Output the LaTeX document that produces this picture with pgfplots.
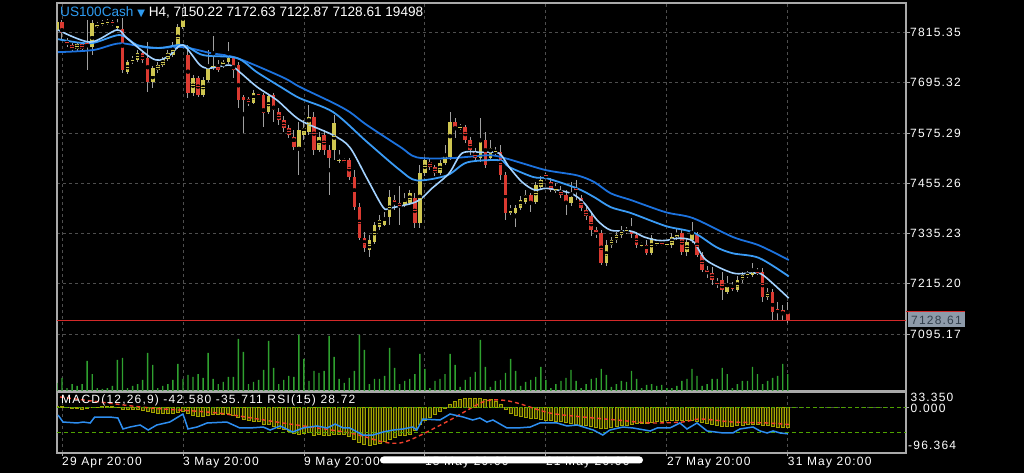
\documentclass[border=0pt]{standalone}
\usepackage{pgfplots}
\pgfplotsset{compat=1.18}
\usepackage{pgfplotstable}
\usepackage{fontspec}
\setmainfont{Liberation Sans}
\newfontfamily\lbl[LetterSpace=10]{Liberation Sans}
\newfontfamily\sym{DejaVu Sans}
\definecolor{framegray}{HTML}{A9A9A9}
\definecolor{gridgray}{HTML}{4E4E4E}
\definecolor{upcol}{HTML}{CFC650}
\definecolor{downcol}{HTML}{DB3A31}
\definecolor{wickcol}{HTML}{A0A0A0}
\definecolor{volgreen}{HTML}{2FA12F}
\definecolor{maLight}{HTML}{A3D2FF}
\definecolor{maMid}{HTML}{3A9BF5}
\definecolor{maDark}{HTML}{1C72DE}
\definecolor{histfill}{HTML}{3A3A00}
\definecolor{histdraw}{HTML}{A3A300}
\definecolor{sigred}{HTML}{F0402C}
\definecolor{rsiblue}{HTML}{2E8EF0}
\definecolor{lvlgreen}{HTML}{4FA300}
\definecolor{titleblue}{HTML}{2E9BF0}
\definecolor{pricered}{HTML}{D42A2A}
\definecolor{tagbg}{HTML}{8E9BAA}
\definecolor{tagtxt}{HTML}{33404D}
\pgfplotstableread{
i o h l c v
-1 7821 7849 7806 7840 9.2
0 7840 7844 7797 7813 15.0
1 7794 7801 7780 7787 3.4
2 7785 7789 7768 7775 8.0
3 7775 7792 7770 7787 5.8
4 7787 7792 7770 7775 8.0
5 7789 7844 7725 7787 34.5
6 7780 7844 7761 7837 19.5
7 7830 7840 7825 7832 3.4
8 7835 7844 7830 7837 2.3
9 7837 7847 7832 7840 3.4
10 7840 7844 7830 7837 5.8
11 7825 7847 7821 7835 35.7
12 7823 7849 7718 7725 38.0
13 7720 7749 7715 7744 3.4
14 7744 7758 7739 7751 5.8
15 7749 7773 7744 7766 8.0
16 7766 7770 7742 7749 12.7
17 7754 7792 7672 7696 43.7
18 7696 7735 7682 7730 29.9
19 7725 7744 7718 7737 3.4
20 7737 7756 7732 7751 5.8
21 7751 7773 7746 7766 8.0
22 7761 7792 7756 7785 12.7
23 7780 7835 7775 7828 31.1
24 7828 7873 7823 7852 13.8
25 7761 7785 7658 7670 18.4
26 7670 7713 7663 7706 16.1
27 7706 7711 7661 7665 19.5
28 7665 7708 7661 7701 15.0
29 7701 7773 7696 7732 43.7
30 7732 7806 7725 7735 13.8
31 7737 7749 7720 7725 8.0
32 7737 7749 7730 7744 10.4
33 7744 7792 7739 7754 16.1
34 7754 7758 7706 7725 16.1
35 7737 7744 7634 7653 59.8
36 7661 7665 7575 7653 44.9
37 7656 7661 7639 7646 8.0
38 7646 7677 7644 7670 10.4
39 7668 7672 7663 7667 12.7
40 7665 7670 7589 7622 24.2
41 7625 7668 7620 7663 57.5
42 7665 7670 7601 7630 26.5
43 7625 7634 7594 7606 8.0
44 7606 7615 7577 7587 12.7
45 7587 7594 7563 7570 17.3
46 7565 7582 7534 7541 16.1
47 7541 7601 7474 7582 64.4
48 7570 7606 7558 7587 36.8
49 7577 7641 7570 7613 11.5
50 7613 7625 7522 7534 23.0
51 7534 7577 7529 7565 20.7
52 7570 7582 7522 7534 23.0
53 7534 7546 7427 7515 63.3
54 7534 7618 7510 7598 39.1
55 7510 7534 7503 7511 13.8
56 7510 7515 7503 7508 9.2
57 7510 7515 7462 7470 15.0
58 7470 7486 7391 7398 23.0
59 7398 7408 7319 7324 64.4
60 7324 7338 7291 7300 47.2
61 7295 7331 7279 7319 8.0
62 7315 7362 7310 7355 13.8
63 7350 7379 7343 7367 13.8
64 7355 7386 7353 7372 17.3
65 7374 7439 7355 7422 49.5
66 7415 7427 7391 7408 26.5
67 7408 7448 7355 7398 8.0
68 7403 7431 7398 7415 11.5
69 7408 7439 7403 7431 13.8
70 7420 7431 7348 7360 19.5
71 7360 7498 7348 7479 42.6
72 7479 7517 7472 7510 25.3
73 7505 7515 7486 7494 3.4
74 7494 7498 7472 7479 11.5
75 7479 7510 7474 7503 13.8
76 7503 7546 7498 7522 19.5
77 7517 7625 7510 7601 42.6
78 7601 7610 7563 7589 29.9
79 7589 7596 7582 7590 4.6
80 7589 7594 7551 7558 12.7
81 7558 7565 7522 7534 16.1
82 7529 7539 7508 7515 21.9
83 7515 7610 7505 7558 58.7
84 7558 7577 7491 7498 27.6
85 7515 7558 7510 7539 4.6
86 7527 7541 7520 7534 11.5
87 7529 7546 7462 7474 12.7
88 7474 7482 7367 7384 20.7
89 7386 7403 7379 7389 36.8
90 7384 7403 7350 7396 23.0
91 7396 7424 7391 7415 5.8
92 7410 7439 7405 7427 10.4
93 7427 7431 7386 7410 12.7
94 7410 7458 7405 7451 16.1
95 7446 7472 7439 7462 27.6
96 7474 7479 7465 7472 12.7
97 7458 7467 7434 7439 3.4
98 7439 7455 7431 7440 8.0
99 7439 7448 7420 7427 11.5
100 7427 7439 7379 7408 15.0
101 7408 7458 7400 7422 24.2
102 7443 7462 7415 7436 11.5
103 7420 7427 7389 7396 3.4
104 7391 7400 7367 7377 8.0
105 7377 7386 7329 7343 13.8
106 7343 7350 7324 7336 15.0
107 7336 7343 7260 7264 25.3
108 7264 7319 7257 7307 18.4
109 7307 7327 7300 7319 4.6
110 7319 7338 7312 7331 8.0
111 7331 7353 7324 7343 11.5
112 7341 7350 7334 7343 10.4
113 7338 7372 7324 7334 23.0
114 7331 7338 7300 7307 13.8
115 7307 7315 7303 7308 3.4
116 7307 7319 7284 7288 6.9
117 7288 7331 7284 7324 8.0
118 7312 7319 7305 7313 5.8
119 7312 7317 7305 7310 6.9
120 7310 7315 7305 7310 3.4
121 7307 7336 7300 7327 3.4
122 7327 7346 7319 7336 5.8
123 7336 7343 7284 7291 11.5
124 7291 7324 7281 7315 13.8
125 7319 7362 7312 7336 25.3
126 7331 7338 7279 7284 17.3
127 7284 7291 7243 7248 5.8
128 7248 7257 7229 7241 8.0
129 7241 7255 7212 7224 13.8
130 7219 7229 7205 7214 13.8
131 7224 7243 7176 7200 26.5
132 7195 7233 7191 7207 19.5
133 7205 7219 7198 7204 3.4
134 7200 7233 7195 7224 8.0
135 7224 7243 7217 7236 11.5
136 7236 7245 7229 7237 11.5
137 7236 7264 7231 7243 27.6
138 7243 7253 7236 7242 19.5
139 7243 7253 7171 7183 8.0
140 7183 7205 7176 7195 11.5
141 7195 7202 7129 7148 15.0
142 7155 7171 7129 7154 17.3
143 7152 7164 7126 7151 31.1
144 7150.22 7172.63 7122.87 7128.61 19.498
}\candles
\pgfplotstableread{
i p
-0.8 7821
5.6 7792
10.9 7821
12.9 7801
17.5 7756
19.4 7749
21.4 7761
24.0 7785
27.4 7737
29.4 7730
33.3 7737
35.3 7720
38.7 7685
42.7 7653
47.2 7606
53.8 7570
57.1 7541
60.5 7467
63.7 7398
65.1 7396
69.6 7408
71.4 7420
73.4 7443
76.8 7479
79.4 7527
83.3 7529
86.7 7527
88.7 7494
91.3 7458
93.8 7439
96.2 7443
101.0 7431
103.6 7408
106.2 7367
108.9 7343
112.9 7341
115.5 7327
118.1 7319
120.0 7319
122.4 7324
125.2 7317
127.8 7272
133.1 7241
137.1 7241
139.1 7236
144.2 7181
}\maL
\pgfplotstableread{
i p
-0.8 7799
5.6 7789
11.5 7809
14.9 7785
19.4 7778
24.0 7785
28.0 7761
34.7 7754
38.7 7720
43.8 7682
47.2 7658
53.8 7625
60.5 7554
67.1 7486
70.4 7462
76.4 7474
80.4 7505
86.9 7510
88.7 7494
93.5 7470
96.2 7467
102.2 7443
105.6 7422
108.9 7398
112.9 7384
119.8 7353
125.2 7338
129.8 7303
133.1 7288
138.3 7277
144.2 7233
}\maM
\pgfplotstableread{
i p
-0.8 7768
6.2 7773
11.5 7789
17.5 7778
24.0 7780
29.4 7766
34.7 7754
43.8 7708
47.2 7685
53.8 7647
57.1 7625
60.5 7594
67.1 7542
70.4 7517
77.0 7515
84.7 7522
87.9 7515
91.3 7503
96.2 7486
102.2 7474
105.6 7458
108.9 7431
112.9 7415
119.8 7386
125.2 7372
133.1 7327
138.3 7307
144.2 7272
}\maD
\pgfplotstableread{
i m
-1 3
0 2
1 1
2 -1
3 -2
4 -3
5 -2
6 0
7 1
8 2
9 2
10 3
11 1
12 -3
13 -4
14 -4
15 -3
16 -5
17 -8
18 -10
19 -12
20 -13
21 -13
22 -12
23 -10
24 -8
25 -12
26 -16
27 -18
28 -18
29 -17
30 -15
31 -14
32 -14
33 -13
34 -16
35 -20
36 -25
37 -28
38 -30
39 -30
40 -35
41 -36
42 -40
43 -44
44 -46
45 -50
46 -54
47 -56
48 -55
49 -53
50 -58
51 -57
52 -58
53 -60
54 -56
55 -56
56 -57
57 -62
58 -68
59 -74
60 -78
61 -80
62 -78
63 -75
64 -72
65 -68
66 -64
67 -60
68 -58
69 -56
70 -48
71 -36
72 -26
73 -20
74 -14
75 -8
76 -2
77 6
78 14
79 18
80 20
81 20
82 19
83 20
84 18
85 17
86 14
87 8
88 -4
89 -12
90 -16
91 -18
92 -20
93 -22
94 -22
95 -24
96 -26
97 -28
98 -29
99 -30
100 -32
101 -33
102 -35
103 -37
104 -38
105 -40
106 -42
107 -45
108 -44
109 -42
110 -40
111 -38
112 -37
113 -35
114 -34
115 -33
116 -33
117 -31
118 -30
119 -29
120 -28
121 -27
122 -26
123 -27
124 -28
125 -27
126 -29
127 -32
128 -34
129 -36
130 -38
131 -40
132 -40
133 -39
134 -38
135 -37
136 -36
137 -35
138 -35
139 -37
140 -38
141 -40
142 -41
143 -42
144 -42.58
}\macd
\pgfplotstableread{
i s
-0.4 22.8
7.5 12.1
17.5 -0.6
30.8 -11.3
43.8 -32.5
57.1 -53.8
63.7 -72.9
67.1 -75
70.4 -62.3
77.0 -26.2
83.5 12.1
86.9 16.4
90.3 10
96.8 -11.3
103.4 -19.8
110.1 -26.2
116.7 -32.5
123.2 -30.4
126.6 -24
133.1 -30.4
139.9 -32.5
144.2 -35.711
}\signal
\pgfplotstableread{
i r
-0.8 57.7
0.2 46.9
3.0 45.4
4.2 46.9
5.6 45.4
6.5 54.6
9.5 54.6
11.1 53.1
12.1 36.2
13.5 39.2
15.5 42.3
17.1 34.6
18.8 42.3
21.4 46.9
24.0 59.2
25.0 36.2
26.8 39.2
28.8 45.4
32.7 46.9
35.3 37.7
37.3 37.7
39.9 39.2
41.3 34.6
43.3 40.8
45.8 31.5
47.8 37.7
50.6 40.8
52.6 37.7
54.2 43.8
55.8 37.7
57.1 37.7
59.7 26.9
61.7 26.9
63.7 31.5
65.7 34.6
67.7 36.2
69.6 39.2
70.4 34.6
71.6 51.5
75.0 50.0
77.0 59.2
79.6 54.6
81.5 50.0
82.9 53.1
84.3 46.9
85.5 50.0
88.3 37.7
90.3 37.7
92.9 39.2
94.8 45.4
98.2 45.4
100.2 40.8
102.2 42.3
105.4 34.6
107.3 26.9
108.7 34.6
111.3 39.2
113.3 37.7
116.7 33.1
118.1 37.7
120.6 37.7
122.6 45.4
124.0 36.2
126.0 45.4
128.0 33.1
131.2 30.0
133.1 30.0
134.5 36.2
137.1 39.2
138.5 33.1
139.9 30.0
141.1 33.1
142.5 30.0
144.0 28.72
}\rsi
\begin{document}
\begin{tikzpicture}[x=1pt,y=1pt]
\fill[black] (0,0) rectangle (1024,473);
% ---------- main price panel ----------
\begin{axis}[
  at={(57pt,82pt)}, anchor=south west, scale only axis,
  width=849pt, height=388pt,
  xmin=-0.99, xmax=167.46, ymin=6959.5, ymax=7885.3,
  axis line style={draw=framegray, line width=1.2pt},
  xtick={0,24,48,72,96,120,144}, xticklabels={}, xtick style={draw=none},
  ytick={7095.17,7215.20,7335.23,7455.26,7575.29,7695.32,7815.35},
  yticklabels={7095.17,7215.20,7335.23,7455.26,7575.29,7695.32,7815.35},
  ytick pos=right, yticklabel pos=right,
  tick align=outside, major tick length=4pt,
  ytick style={draw=framegray, line width=0.8pt},
  yticklabel style={font=\lbl\fontsize{12}{14}\selectfont, text=white, anchor=west, inner sep=0pt},
  xmajorgrids, ymajorgrids,
  major grid style={draw=gridgray, dash pattern=on 3pt off 3pt, line width=0.8pt},
]
% wicks
\addplot[only marks, mark=none, forget plot,
  error bars/.cd, y dir=both, y explicit, error mark=none,
  error bar style={draw=wickcol, line width=1pt, solid}]
  table[x=i, y expr={(\thisrow{h}+\thisrow{l})/2}, y error expr={(\thisrow{h}-\thisrow{l})/2}] {\candles};
% up bodies
\addplot[only marks, mark=-, mark size=1.8pt, mark options={draw=upcol, line width=0.9pt}, forget plot,
  restrict y to domain=6000:9000,
  error bars/.cd, y dir=both, y explicit, error mark=none,
  error bar style={draw=upcol, line width=3.6pt, solid}]
  table[x=i, y expr={(\thisrow{c}>=\thisrow{o}) ? (\thisrow{o}+\thisrow{c})/2 : -100000}, y error expr={abs(\thisrow{c}-\thisrow{o})/2}] {\candles};
% down bodies
\addplot[only marks, mark=-, mark size=1.8pt, mark options={draw=downcol, line width=0.9pt}, forget plot,
  restrict y to domain=6000:9000,
  error bars/.cd, y dir=both, y explicit, error mark=none,
  error bar style={draw=downcol, line width=3.6pt, solid}]
  table[x=i, y expr={(\thisrow{c}<\thisrow{o}) ? (\thisrow{o}+\thisrow{c})/2 : -100000}, y error expr={abs(\thisrow{c}-\thisrow{o})/2}] {\candles};
% moving averages
\addplot[maDark, line width=1.8pt, smooth, tension=0.5] table[x=i,y=p]{\maD};
\addplot[maMid, line width=1.8pt, smooth, tension=0.5] table[x=i,y=p]{\maM};
\addplot[maLight, line width=1.6pt, smooth, tension=0.5] table[x=i,y=p]{\maL};
% last price line
\addplot[pricered, line width=1pt] coordinates {(-0.99,7128.61) (167.46,7128.61)};
\end{axis}
% ---------- volume overlay ----------
\begin{axis}[
  at={(57pt,82pt)}, anchor=south west, scale only axis,
  width=849pt, height=388pt,
  xmin=-0.99, xmax=167.46, ymin=0, ymax=446, hide axis]
\addplot[ybar, bar width=1.4pt, fill=volgreen, draw=none] table[x=i,y=v]{\candles};
\end{axis}
% ---------- MACD panel ----------
\begin{axis}[
  at={(57pt,20pt)}, anchor=south west, scale only axis,
  width=849pt, height=61pt,
  xmin=-0.99, xmax=167.46, ymin=-96.364, ymax=33.35,
  axis line style={draw=framegray, line width=1.2pt},
  xtick={0,24,48,72,96,120,144},
  xticklabels={29 Apr 20:00,3 May 20:00,9 May 20:00,15 May 20:00,21 May 20:00,27 May 20:00,31 May 20:00},
  xtick pos=left, xticklabel pos=left,
  xticklabel style={font=\lbl\fontsize{12}{14}\selectfont, text=white, anchor=north west, inner sep=0pt, yshift=-1pt},
  ytick={0}, yticklabels={}, ytick pos=right,
  tick align=outside, major tick length=3pt,
  tick style={draw=framegray, line width=0.8pt},
  xmajorgrids, ymajorgrids,
  major grid style={draw=gridgray, dash pattern=on 3pt off 3pt, line width=0.8pt},
]
\addplot[ybar, bar width=3pt, fill=histfill, draw=histdraw, line width=0.8pt] table[x=i,y=m]{\macd};
\addplot[sigred, line width=1.4pt, dash pattern=on 4pt off 3pt, smooth, tension=0.5] table[x=i,y=s]{\signal};
\end{axis}
% ---------- RSI overlay ----------
\begin{axis}[
  at={(57pt,20pt)}, anchor=south west, scale only axis,
  width=849pt, height=61pt,
  xmin=-0.99, xmax=167.46, ymin=-0.8, ymax=93.1, hide axis]
\addplot[lvlgreen, line width=1pt, dash pattern=on 4pt off 3pt] coordinates {(-0.99,70) (167.46,70)};
\addplot[lvlgreen, line width=1pt, dash pattern=on 4pt off 3pt] coordinates {(-0.99,30) (167.46,30)};
\addplot[rsiblue, line width=1.5pt] table[x=i,y=r]{\rsi};
\end{axis}
% ---------- texts ----------
\node[anchor=base west, inner sep=0pt, font=\fontsize{13.6}{16}\selectfont] at (60,456)
  {\textcolor{titleblue}{US100Cash\ {\sym\fontsize{10}{12}\selectfont ▼}}\textcolor{white}{\ H4, 7150.22 7172.63 7122.87 7128.61 19498}};
\node[anchor=base west, inner sep=0pt, font=\lbl\fontsize{12}{14}\selectfont, text=white] at (61,69.7)
  {MACD(12,26,9) -42.580 -35.711 RSI(15) 28.72};
\node[anchor=base west, inner sep=0pt, font=\lbl\fontsize{12}{14}\selectfont, text=white] at (910.5,71) {33.350};
\node[anchor=base west, inner sep=0pt, font=\lbl\fontsize{12}{14}\selectfont, text=white] at (910.5,60.5) {0.000};
\node[anchor=base west, inner sep=0pt, font=\lbl\fontsize{12}{14}\selectfont, text=white] at (908,23) {-96.364};
% price tag
\fill[tagbg] (908,146) rectangle (965,161);
\draw[pricered, line width=1pt] (906,161) -- (965,161);
\node[anchor=base west, inner sep=0pt, font=\lbl\fontsize{12}{14}\selectfont, text=tagtxt] at (911,148.5) {7128.61};
% home indicator
\fill[white, rounded corners=3.5pt] (380,9.5) rectangle (643,16.5);
\pgfresetboundingbox
\useasboundingbox (0,0) rectangle (1024,473);
\end{tikzpicture}
\end{document}
